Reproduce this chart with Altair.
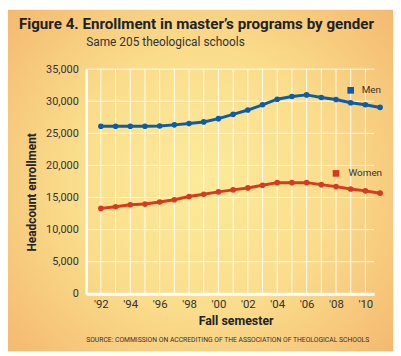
import altair as alt
import pandas as pd

years = list(range(1992, 2012))
men = [26110, 26110, 26110, 26110, 26150, 26320, 26520, 26780, 27290, 27960,
       28630, 29450, 30320, 30740, 30990, 30580, 30270, 29760, 29450, 29040]
women = [13310, 13570, 13880, 13980, 14290, 14650, 15160, 15520, 15880, 16190,
         16500, 16910, 17320, 17320, 17320, 17010, 16700, 16340, 16040, 15680]
series = ["Men", "Women"]
colors = ["#0B5DA7", "#D83A1F"]
grid_years = list(range(1992, 2011))
y_ticks = list(range(0, 35001, 5000))
legend_square_year = [2009.0, 2008.0]
legend_text_year = [2009.75, 2008.85]
legend_value = [31700, 18760]

title_text = "Figure 4. Enrollment in master\u2019s programs by gender"
subtitle_text = "Same 205 theological schools"
source_text = "SOURCE: COMMISSION ON ACCREDITING OF THE ASSOCIATION OF THEOLOGICAL SCHOOLS"

FONT = "Roboto"
W, H = 291, 227
PL, PT, PR, PB = 79, 60, 19, 58

df = pd.DataFrame({
    "year": years * 2,
    "value": men + women,
    "series": ["Men"] * len(years) + ["Women"] * len(years),
})
leg = pd.DataFrame({"series": series, "sq": legend_square_year,
                    "tx": legend_text_year, "value": legend_value})

xscale = alt.Scale(domain=[1991, 2010.6], nice=False, zero=False)
yscale = alt.Scale(domain=[0, 35000], nice=False)
cscale = alt.Scale(domain=series, range=colors)

xa = alt.Axis(
    zindex=1, values=grid_years, grid=False,
    ticks=False, domainColor="white", domainWidth=3,
    labelExpr="datum.value % 2 == 0 ? \"'\" + slice(toString(datum.value), 2) : ''",
    labelFont=FONT, labelFontSize=11.5, labelColor="#333", labelPadding=5,
    labelOverlap=False,
    title="Fall semester", titleFont=FONT, titleFontSize=12.5, titleFontWeight="bold",
    titleColor="#222", titlePadding=4, titleX=151)
ya = alt.Axis(
    zindex=1, values=y_ticks, format=",.0f", grid=False,
    ticks=False, domainColor="white", domainWidth=2.5,
    labelFont=FONT, labelFontSize=11, labelColor="#333", labelPadding=8,
    labelOverlap=False,
    title="Headcount enrollment", titleFont=FONT, titleFontSize=12, titleFontWeight="bold",
    titleColor="#222", titleX=-55, titleY=124, titleAngle=-90, titleBaseline="middle",
    titleAlign="center")

bg = alt.Chart(pd.DataFrame({"a": [0]})).mark_rect(
    fill={"gradient": "radial", "x1": 0.5, "y1": 0.5, "r1": 0.0,
          "x2": 0.5, "y2": 0.5, "r2": 0.75,
          "stops": [{"offset": 0, "color": "#FCEB9A"},
                    {"offset": 0.45, "color": "#FADD8C"},
                    {"offset": 1, "color": "#F3B06A"}]}
).encode(x=alt.value(-PL), x2=alt.value(W + PR), y=alt.value(-PT), y2=alt.value(H + PB))

vgrid = alt.Chart(pd.DataFrame({"year": grid_years})).mark_rule(
    color="white", strokeWidth=1, opacity=0.9).encode(
    x=alt.X("year:Q", scale=xscale, axis=xa))
hgrid = alt.Chart(pd.DataFrame({"value": y_ticks})).mark_rule(
    color="white", strokeWidth=1, opacity=0.9).encode(
    y=alt.Y("value:Q", scale=yscale, axis=ya))

base = alt.Chart(df).encode(
    x=alt.X("year:Q", scale=xscale, axis=xa),
    y=alt.Y("value:Q", scale=yscale, axis=ya),
    color=alt.Color("series:N", scale=cscale, legend=None),
)
lines = base.mark_line(strokeWidth=3)
points = base.mark_circle(size=32, opacity=1)

leg_sq = alt.Chart(leg).mark_square(size=45, opacity=1).encode(
    x=alt.X("sq:Q", scale=xscale, axis=xa), y=alt.Y("value:Q", scale=yscale, axis=ya),
    color=alt.Color("series:N", scale=cscale, legend=None))
leg_tx = alt.Chart(leg).mark_text(align="left", baseline="middle", font=FONT,
                                  fontSize=10, color="#333").encode(
    x=alt.X("tx:Q", scale=xscale, axis=xa), y=alt.Y("value:Q", scale=yscale, axis=ya),
    text="series:N")

def txt(s, x, y, size, weight="normal", color="#222"):
    return alt.Chart(pd.DataFrame({"t": [s]})).mark_text(
        align="left", baseline="middle", font=FONT, fontSize=size,
        fontWeight=weight, color=color).encode(
        text="t:N", x=alt.value(x), y=alt.value(y))

title = txt(title_text, 19 - 87, 22 - 68, 15.3, "bold", "#222")
subtitle = txt(subtitle_text, 0, 40.5 - 68, 12, "normal", "#333")
source = txt(source_text, 0, 341.5 - 68, 6.85, "normal", "#333")

chart = alt.layer(bg, vgrid, hgrid, lines, points, leg_sq, leg_tx, title, subtitle, source).properties(
    width=W, height=H,
    autosize=alt.AutoSizeParams(type="none"),
    padding={"left": PL, "top": PT, "right": PR, "bottom": PB},
    background="white",
).configure_view(stroke=None)

chart.save("out.html", embed_options={"renderer": "svg", "actions": False})
